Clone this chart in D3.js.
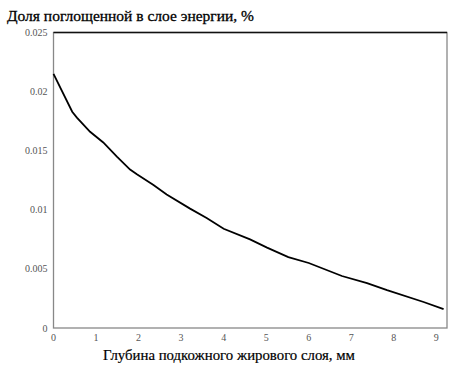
<!DOCTYPE html>
<html>
<head>
<meta charset="utf-8">
<script src="https://cdn.jsdelivr.net/npm/d3@7"></script>
<style>
  body { margin: 0; background: #fff; }
  text { font-family: "Liberation Serif", "DejaVu Serif", serif; }
</style>
</head>
<body>
<svg id="chart" width="474" height="371"></svg>
<script>
// data
const depth = [0, 0.44, 0.55, 0.86, 1.17, 1.49, 1.8, 1.96, 2.35, 2.66, 3.21, 3.6, 4.0, 4.62, 5.02, 5.52, 6.0, 6.78, 7.37, 7.84, 8.7, 9.17];
const share = [0.0215, 0.0183, 0.0178, 0.0166, 0.0157, 0.0145, 0.0134, 0.0130, 0.0121, 0.0113, 0.0101, 0.0093, 0.0084, 0.0075, 0.0068, 0.0060, 0.0055, 0.0044, 0.0038, 0.0032, 0.0022, 0.0016];
const xTicks = [0, 1, 2, 3, 4, 5, 6, 7, 8, 9];
const yTicks = [0, 0.005, 0.01, 0.015, 0.02, 0.025];

const margin = {left: 53.5, top: 32.5, right: 27, bottom: 43};
const width = 474, height = 371;
const svg = d3.select("#chart");

let x = d3.scaleLinear().domain([0, 9.25]).range([margin.left, width - margin.right]);
let y = d3.scaleLinear().domain([0, 0.025]).range([height - margin.bottom, margin.top]);

// frame
svg.append("rect")
   .attr("x", x(0)).attr("y", y(0.025))
   .attr("width", x(9.25) - x(0)).attr("height", y(0) - y(0.025))
   .style("fill", "none").style("stroke", "#888").style("stroke-width", 1.3);
svg.append("line")
   .attr("x1", x(0)).attr("x2", x(9.25))
   .attr("y1", y(0.025)).attr("y2", y(0.025))
   .style("stroke", "#111").style("stroke-width", 1.3);

// y tick labels
svg.selectAll(".ylab").data(yTicks).enter().append("text")
   .attr("x", x(0) - 6).attr("y", d => y(d) + 3.5)
   .attr("text-anchor", "end")
   .style("font-size", "10px").style("fill", "#555")
   .text(d => d3.format("")(d));

// x tick labels
svg.selectAll(".xlab").data(xTicks).enter().append("text")
   .attr("x", d => x(d)).attr("y", y(0) + 13)
   .attr("text-anchor", "middle")
   .style("font-size", "10px").style("fill", "#555")
   .text(d => d);

// curve
let line = d3.line().x((d, i) => x(depth[i])).y(d => y(d));
svg.append("path")
   .attr("d", line(share))
   .style("fill", "none").style("stroke", "#000").style("stroke-width", 1.8);

// titles
svg.append("text").attr("x", 7).attr("y", 21)
   .style("font-size", "15.5px").style("fill", "#000")
   .style("stroke", "#000").style("stroke-width", 0.3)
   .text("Доля поглощенной в слое энергии, %");
svg.append("text").attr("x", 229).attr("y", 360)
   .attr("text-anchor", "middle")
   .style("font-size", "14.8px").style("fill", "#000")
   .style("stroke", "#000").style("stroke-width", 0.2)
   .text("Глубина подкожного жирового слоя, мм");
</script>
</body>
</html>
